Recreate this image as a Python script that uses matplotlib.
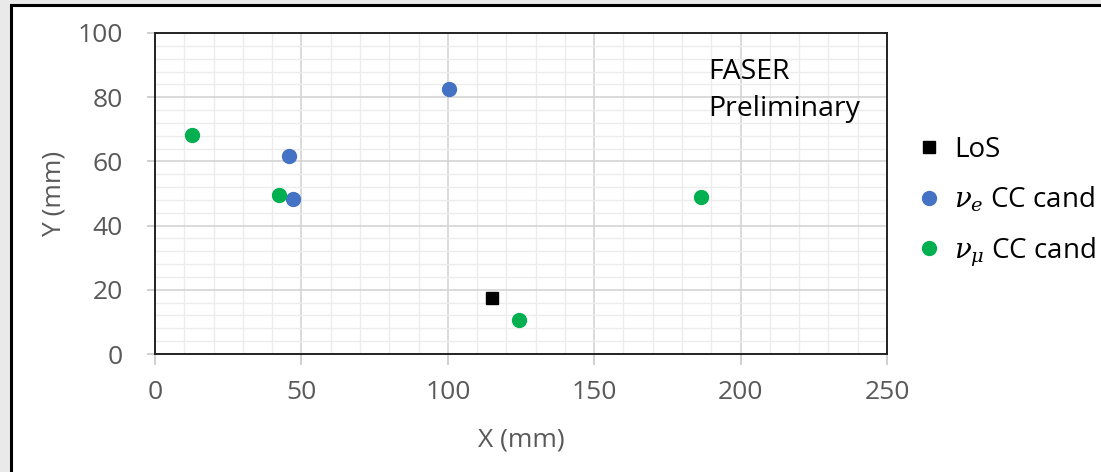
import matplotlib
matplotlib.use('Agg')
from matplotlib import pyplot as plt
from matplotlib.patches import Rectangle
from matplotlib.ticker import MultipleLocator

plt.rcParams['font.family'] = ['Open Sans', 'DejaVu Sans']
plt.rcParams['mathtext.fontset'] = 'dejavuserif'

# data (mm)
los_x = [115]
los_y = [17.4]
nue_x = [45.8, 47.1, 100.4]
nue_y = [61.7, 48.3, 82.6]
numu_x = [12.6, 42.3, 124.3, 186.5]
numu_y = [68.2, 49.5, 10.6, 48.9]

fig = plt.figure(figsize=(11.01, 4.72), dpi=100, facecolor='#e9e9e9')
# white slide box with black border, behind the axes
box = Rectangle((11/1101, -0.1), 1.2, 1 - 5/472 + 0.1, transform=fig.transFigure,
                facecolor='white', edgecolor='black', linewidth=2.2, zorder=-10)
fig.add_artist(box)

ax = fig.add_axes([155/1101, 1 - 354/472, 732/1101, 321/472])
ax.set_facecolor('white')
ax.set_xlim(0, 250)
ax.set_ylim(0, 100)
ax.xaxis.set_major_locator(MultipleLocator(50))
ax.xaxis.set_minor_locator(MultipleLocator(10))
ax.yaxis.set_major_locator(MultipleLocator(20))
ax.yaxis.set_minor_locator(MultipleLocator(4))
ax.grid(which='major', color='#d4d4d4', linewidth=1.2)
ax.grid(which='minor', color='#ececec', linewidth=1.0)
ax.set_axisbelow(True)
for s in ax.spines.values():
    s.set_color('#222222')
    s.set_linewidth(1.4)
ax.tick_params(which='minor', length=0)
ax.tick_params(axis='y', which='major', length=6, width=1.2, color='#c8c8c8',
               labelsize=19, labelcolor='#595959', pad=17)
ax.tick_params(axis='x', which='major', length=8, width=1.2, color='#c8c8c8',
               labelsize=19, labelcolor='#595959', pad=11)

ax.plot(los_x, los_y, 's', color='black', ms=9, label='LoS', clip_on=False)
ax.plot(nue_x, nue_y, 'o', color='#4472C4', ms=10, label=r'$\nu_e$ CC cand', clip_on=False)
ax.plot(numu_x, numu_y, 'o', color='#00B050', ms=10, label=r'$\nu_\mu$ CC cand', clip_on=False)

ax.text(189, 92.2, 'FASER\nPreliminary', fontsize=20.5, va='top', ha='left', linespacing=1.45)

ax.set_xlabel('X (mm)', fontsize=19, color='#595959', labelpad=16)
ax.set_ylabel('Y (mm)', fontsize=19, color='#595959', labelpad=8)

fig.legend(loc='upper left', bbox_to_anchor=(0.824, 0.735), frameon=False, fontsize=20,
           handlelength=0.8, handletextpad=0.5, labelspacing=0.75, borderaxespad=0)

fig.savefig('out.png', dpi=100, facecolor=fig.get_facecolor())
